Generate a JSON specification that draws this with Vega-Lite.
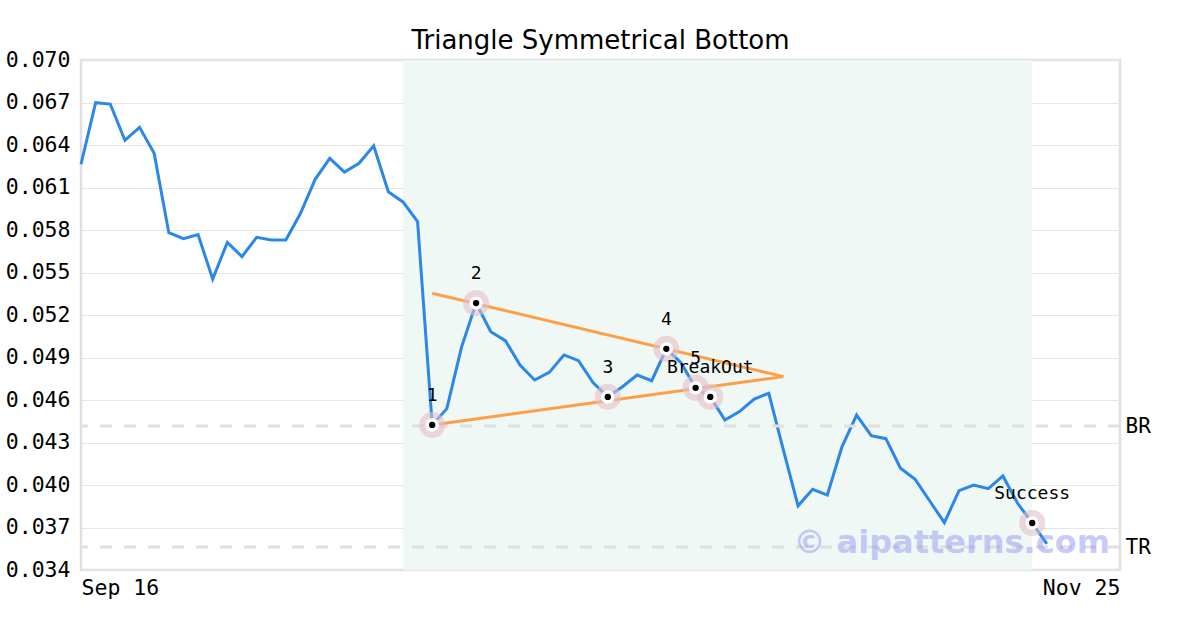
{
  "$schema": "https://vega.github.io/schema/vega-lite/v6.json",
  "width": 1039,
  "height": 510,
  "autosize": "none",
  "padding": {"left": 81, "top": 60, "right": 80, "bottom": 60},
  "background": "white",
  "title": {"text": "Triangle Symmetrical Bottom", "font": "DejaVu Sans", "fontSize": 26, "fontWeight": "normal", "color": "black", "offset": -5},
  "config": {
    "view": {"stroke": "#e0e0e0", "strokeWidth": 2.5},
    "axis": {"labelFont": "DejaVu Sans Mono", "labelFontSize": 21.5, "labelColor": "black", "ticks": false, "domain": false, "title": null}
  },
  "resolve": {"axis": {"y": "independent"}},
  "datasets": {
    "price": [
      {"date": "2024-09-16T00:00:00", "price": 0.06264},
      {"date": "2024-09-17T00:00:00", "price": 0.06699},
      {"date": "2024-09-18T00:00:00", "price": 0.06689},
      {"date": "2024-09-19T00:00:00", "price": 0.06433},
      {"date": "2024-09-20T00:00:00", "price": 0.06525},
      {"date": "2024-09-21T00:00:00", "price": 0.06341},
      {"date": "2024-09-22T00:00:00", "price": 0.05781},
      {"date": "2024-09-23T00:00:00", "price": 0.05739},
      {"date": "2024-09-24T00:00:00", "price": 0.05767},
      {"date": "2024-09-25T00:00:00", "price": 0.05454},
      {"date": "2024-09-26T00:00:00", "price": 0.05713},
      {"date": "2024-09-27T00:00:00", "price": 0.05612},
      {"date": "2024-09-28T00:00:00", "price": 0.05748},
      {"date": "2024-09-29T00:00:00", "price": 0.05729},
      {"date": "2024-09-30T00:00:00", "price": 0.05729},
      {"date": "2024-10-01T00:00:00", "price": 0.05918},
      {"date": "2024-10-02T00:00:00", "price": 0.06158},
      {"date": "2024-10-03T00:00:00", "price": 0.06306},
      {"date": "2024-10-04T00:00:00", "price": 0.06209},
      {"date": "2024-10-05T00:00:00", "price": 0.06271},
      {"date": "2024-10-06T00:00:00", "price": 0.06395},
      {"date": "2024-10-07T00:00:00", "price": 0.0607},
      {"date": "2024-10-08T00:00:00", "price": 0.05998},
      {"date": "2024-10-09T00:00:00", "price": 0.05859},
      {"date": "2024-10-10T00:00:00", "price": 0.04424},
      {"date": "2024-10-11T00:00:00", "price": 0.04539},
      {"date": "2024-10-12T00:00:00", "price": 0.04972},
      {"date": "2024-10-13T00:00:00", "price": 0.05284},
      {"date": "2024-10-14T00:00:00", "price": 0.05082},
      {"date": "2024-10-15T00:00:00", "price": 0.05019},
      {"date": "2024-10-16T00:00:00", "price": 0.04847},
      {"date": "2024-10-17T00:00:00", "price": 0.04741},
      {"date": "2024-10-18T00:00:00", "price": 0.04795},
      {"date": "2024-10-19T00:00:00", "price": 0.04918},
      {"date": "2024-10-20T00:00:00", "price": 0.04878},
      {"date": "2024-10-21T00:00:00", "price": 0.04722},
      {"date": "2024-10-22T00:00:00", "price": 0.04622},
      {"date": "2024-10-23T00:00:00", "price": 0.04694},
      {"date": "2024-10-24T00:00:00", "price": 0.04776},
      {"date": "2024-10-25T00:00:00", "price": 0.04736},
      {"date": "2024-10-26T00:00:00", "price": 0.04961},
      {"date": "2024-10-27T00:00:00", "price": 0.04863},
      {"date": "2024-10-28T00:00:00", "price": 0.04686},
      {"date": "2024-10-29T00:00:00", "price": 0.04622},
      {"date": "2024-10-30T00:00:00", "price": 0.04459},
      {"date": "2024-10-31T00:00:00", "price": 0.04518},
      {"date": "2024-11-01T00:00:00", "price": 0.04607},
      {"date": "2024-11-02T00:00:00", "price": 0.04647},
      {"date": "2024-11-03T00:00:00", "price": 0.04247},
      {"date": "2024-11-04T00:00:00", "price": 0.03853},
      {"date": "2024-11-05T00:00:00", "price": 0.0397},
      {"date": "2024-11-06T00:00:00", "price": 0.03929},
      {"date": "2024-11-07T00:00:00", "price": 0.0427},
      {"date": "2024-11-08T00:00:00", "price": 0.04494},
      {"date": "2024-11-09T00:00:00", "price": 0.04348},
      {"date": "2024-11-10T00:00:00", "price": 0.04327},
      {"date": "2024-11-11T00:00:00", "price": 0.04118},
      {"date": "2024-11-12T00:00:00", "price": 0.0404},
      {"date": "2024-11-13T00:00:00", "price": 0.03887},
      {"date": "2024-11-14T00:00:00", "price": 0.03734},
      {"date": "2024-11-15T00:00:00", "price": 0.0396},
      {"date": "2024-11-16T00:00:00", "price": 0.0400},
      {"date": "2024-11-17T00:00:00", "price": 0.03974},
      {"date": "2024-11-18T00:00:00", "price": 0.04064},
      {"date": "2024-11-19T00:00:00", "price": 0.03871},
      {"date": "2024-11-20T00:00:00", "price": 0.03732},
      {"date": "2024-11-21T00:00:00", "price": 0.03584}
    ],
    "markers": [
      {"date": "2024-10-10T00:00:00", "price": 0.04424, "label": "1"},
      {"date": "2024-10-13T00:00:00", "price": 0.05284, "label": "2"},
      {"date": "2024-10-22T00:00:00", "price": 0.04622, "label": "3"},
      {"date": "2024-10-26T00:00:00", "price": 0.04961, "label": "4"},
      {"date": "2024-10-28T00:00:00", "price": 0.04686, "label": "5"},
      {"date": "2024-10-29T00:00:00", "price": 0.04622, "label": "BreakOut"},
      {"date": "2024-11-20T00:00:00", "price": 0.03732, "label": "Success"}
    ],
    "triangle": [
      {"date": "2024-10-10T00:00:00", "price": 0.05353, "side": "upper"},
      {"date": "2024-11-03T00:00:00", "price": 0.04765, "side": "upper"},
      {"date": "2024-10-10T00:00:00", "price": 0.04424, "side": "lower"},
      {"date": "2024-11-03T00:00:00", "price": 0.04765, "side": "lower"}
    ],
    "levels": [
      {"name": "BR", "price": 0.04416},
      {"name": "TR", "price": 0.03562}
    ],
    "shade": [
      {"start": "2024-10-08T00:00:00", "end": "2024-11-20T00:00:00"}
    ],
    "watermark": [
      {"label": "© aipatterns.com", "date": "2024-11-14T12:00:00", "price": 0.0359}
    ]
  },
  "encoding": {
    "x": {
      "field": "date", "type": "temporal",
      "scale": {"domain": [{"year": 2024, "month": "sep", "date": 16}, {"year": 2024, "month": "nov", "date": 25, "hours": 23, "minutes": 59, "seconds": 59}], "nice": false},
      "axis": {"values": [{"year": 2024, "month": "sep", "date": 16}, {"year": 2024, "month": "nov", "date": 25, "hours": 23, "minutes": 59, "seconds": 59}], "format": "%b %d", "labelFlush": true, "grid": false, "labelPadding": 7}
    }
  },
  "layer": [
    {
      "data": {"name": "shade"},
      "mark": {"type": "rect", "color": "#eff8f4"},
      "encoding": {"x": {"field": "start", "type": "temporal"}, "x2": {"field": "end"}}
    },
    {
      "data": {"name": "price"},
      "mark": {"type": "line", "color": "#2b87e8", "strokeWidth": 3},
      "encoding": {
        "y": {
          "field": "price", "type": "quantitative",
          "scale": {"domain": [0.034, 0.07], "nice": false, "zero": false},
          "axis": {"orient": "left", "values": [0.034, 0.037, 0.04, 0.043, 0.046, 0.049, 0.052, 0.055, 0.058, 0.061, 0.064, 0.067, 0.07], "format": ".3f", "grid": true, "gridColor": "#e6e6e6", "gridWidth": 1, "labelPadding": 11, "zindex": 0}
        }
      }
    },
    {
      "data": {"name": "levels"},
      "mark": {"type": "rule", "color": "#e0e0e0", "strokeWidth": 3, "strokeDash": [12, 12]},
      "encoding": {
        "x": null,
        "y": {
          "field": "price", "type": "quantitative",
          "axis": {"orient": "right", "values": [0.04416, 0.03562], "labelExpr": "datum.value > 0.04 ? 'BR' : 'TR'", "labelFont": "DejaVu Sans Mono", "labelFontSize": 21, "grid": false, "labelPadding": 5}
        }
      }
    },
    {
      "data": {"name": "triangle"},
      "mark": {"type": "line", "color": "#ff9f45", "strokeWidth": 3},
      "encoding": {"y": {"field": "price", "type": "quantitative", "axis": null}, "detail": {"field": "side"}}
    },
    {
      "data": {"name": "markers"},
      "mark": {"type": "point", "filled": true, "shape": "circle", "size": 680, "color": "#e2c0c9", "opacity": 0.6},
      "encoding": {"y": {"field": "price", "type": "quantitative", "axis": null}}
    },
    {
      "data": {"name": "markers"},
      "mark": {"type": "point", "filled": true, "shape": "circle", "size": 180, "color": "white", "opacity": 1},
      "encoding": {"y": {"field": "price", "type": "quantitative", "axis": null}}
    },
    {
      "data": {"name": "markers"},
      "mark": {"type": "point", "filled": true, "shape": "circle", "size": 40, "color": "black", "opacity": 1},
      "encoding": {"y": {"field": "price", "type": "quantitative", "axis": null}}
    },
    {
      "data": {"name": "markers"},
      "mark": {"type": "text", "font": "DejaVu Sans Mono", "fontSize": 18, "color": "black", "baseline": "middle", "align": "center", "dy": -29},
      "encoding": {"y": {"field": "price", "type": "quantitative", "axis": null}, "text": {"field": "label"}}
    },
    {
      "data": {"name": "watermark"},
      "mark": {"type": "text", "font": "DejaVu Sans", "fontWeight": "bold", "fontSize": 32, "color": "#8c8cf5", "opacity": 0.45, "baseline": "middle", "align": "center"},
      "encoding": {"y": {"field": "price", "type": "quantitative", "axis": null}, "text": {"field": "label"}}
    }
  ]
}
